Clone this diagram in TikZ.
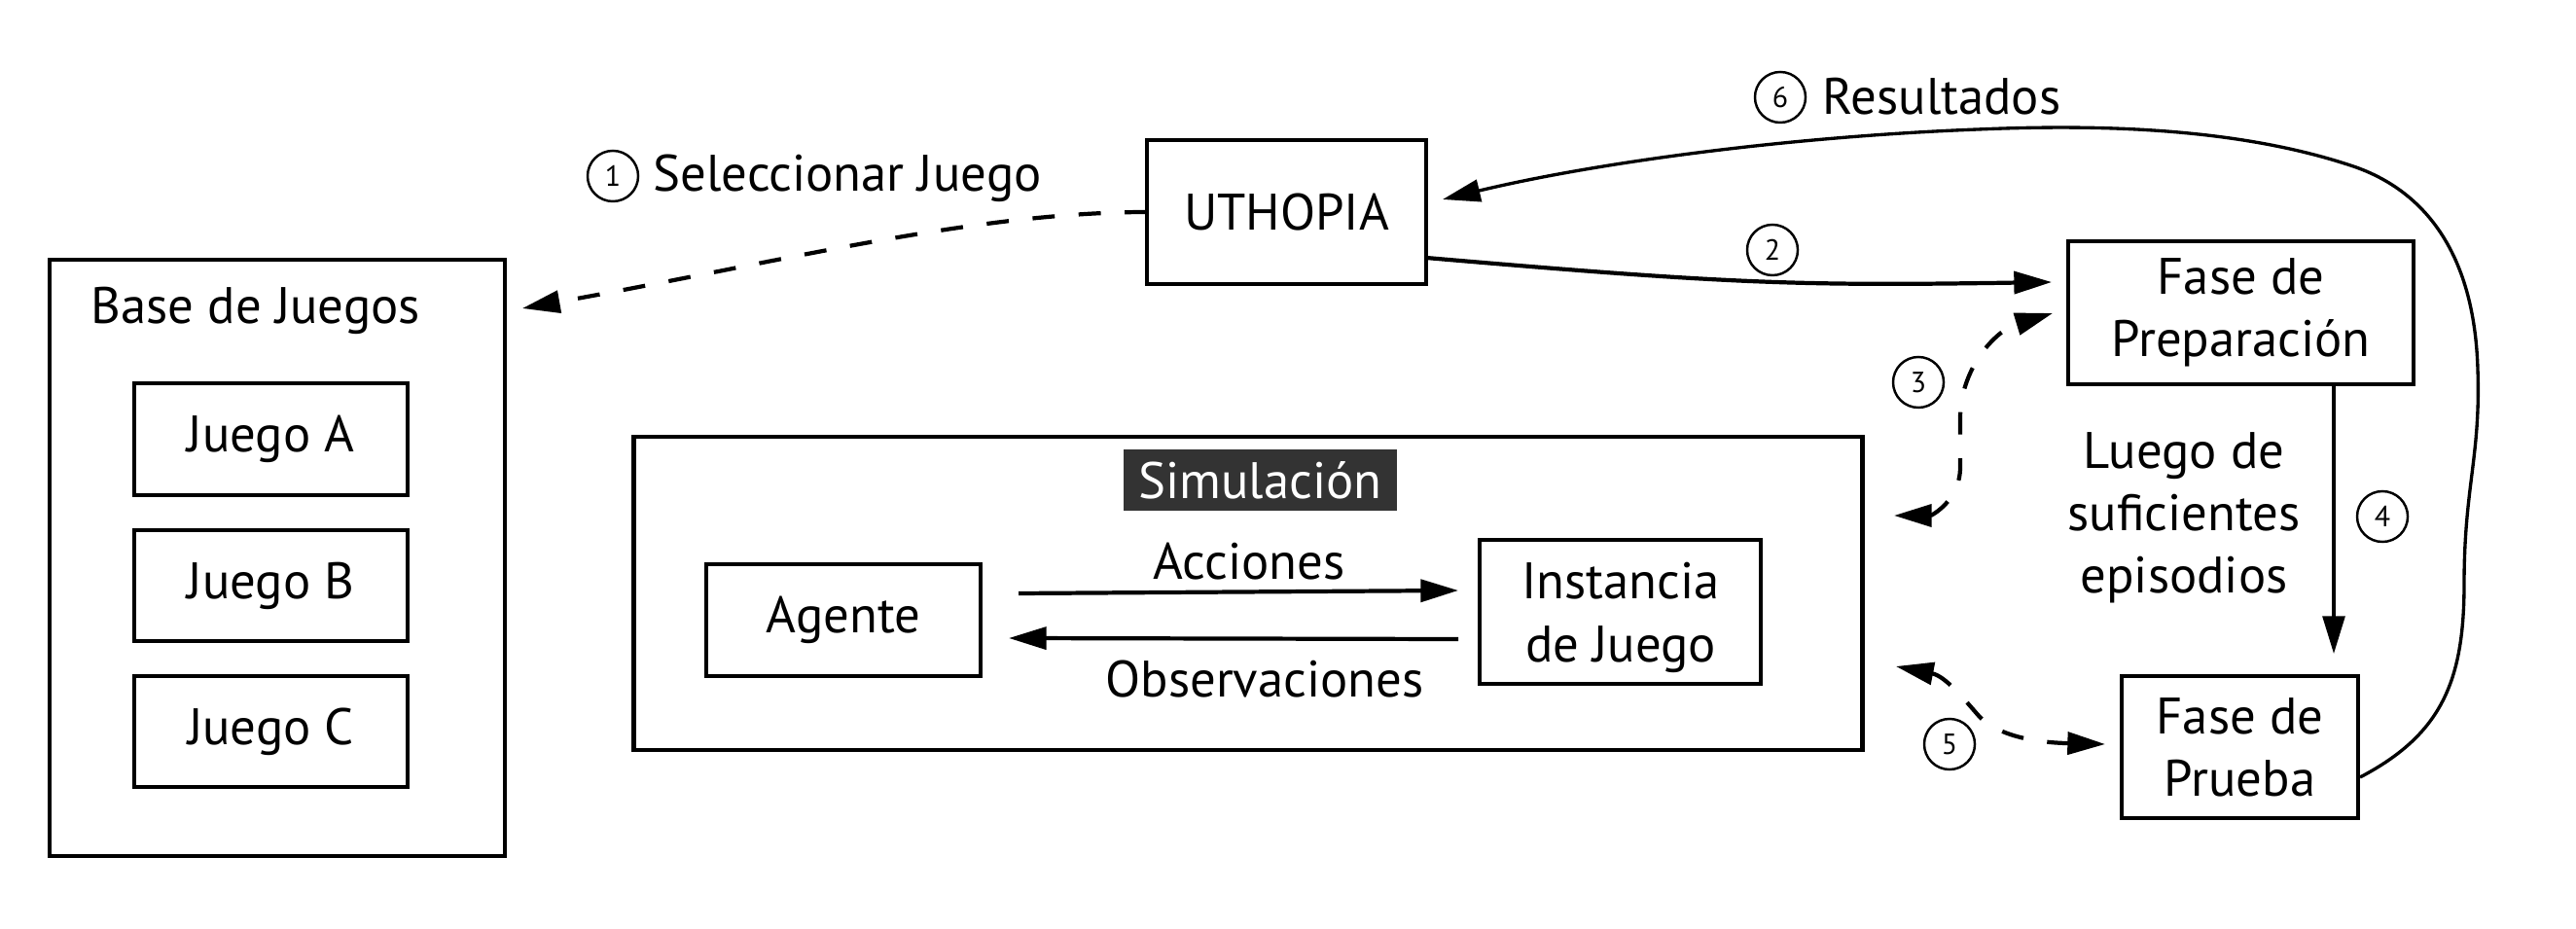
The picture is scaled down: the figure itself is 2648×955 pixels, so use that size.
\documentclass[tikz,border=0pt]{standalone}
\usepackage{fontspec}
\setmainfont{PT Sans}
\usetikzlibrary{arrows.meta}
\definecolor{simgray}{HTML}{333333}
\begin{document}
\begin{tikzpicture}[x=0.01cm,y=-0.01cm,
  font=\fontsize{15}{18.2}\selectfont,
  box/.style={draw, line width=1.3pt, inner sep=0pt, align=center},
  lbl/.style={inner sep=0pt},
  num/.style={draw, circle, line width=0.7pt, minimum size=0.52cm, inner sep=0pt, font=\fontsize{8.5}{10}\selectfont},
  conn/.style={line width=1.2pt, -{Triangle[length=11pt,width=6.5pt]}},
  dconn/.style={line width=1.2pt, dash pattern=on 6.5pt off 7pt},
  thinconn/.style={line width=0.95pt, -{Triangle[length=11pt,width=6.5pt]}},
]
\useasboundingbox (0,0) rectangle (2648,955);

% nodes
\node[box, minimum width=4.68cm, minimum height=6.13cm] (base) at (285,573.5) {};
\node[lbl, anchor=base west] (basetxt) at (93,333) {Base de Juegos};
\node[box, minimum width=2.81cm, minimum height=1.15cm] (ja) at (278.5,451.5) {Juego A};
\node[box, minimum width=2.81cm, minimum height=1.14cm] (jb) at (278.5,602) {Juego B};
\node[box, minimum width=2.81cm, minimum height=1.14cm] (jc) at (278.5,752) {Juego C};
\node[box, minimum width=2.87cm, minimum height=1.48cm] (uth) at (1322.5,218) {UTHOPIA};
\node[box, minimum width=3.55cm, minimum height=1.47cm] (prep) at (2303.5,321.5) {Fase de\\Preparación};
\node[box, minimum width=2.43cm, minimum height=1.46cm] (prueba) at (2302.5,768) {Fase de\\Prueba};
\node[box, minimum width=12.62cm, minimum height=3.22cm] (sim) at (1283,610) {};
\node[fill=simgray, text=white, minimum width=2.81cm, minimum height=0.63cm, inner sep=0pt] (simlbl) at (1295.5,493.5) {Simulación};
\node[box, minimum width=2.82cm, minimum height=1.15cm] (agente) at (867,637.5) {Agente};
\node[box, minimum width=2.89cm, minimum height=1.48cm] (inst) at (1665.5,629) {};
\node[lbl, anchor=base, align=center] (insttxt) at (1666,680) {Instancia\\de Juego};

% labels
\node[lbl, anchor=base] (acc) at (1284,595) {Acciones};
\node[lbl, anchor=base] (obs) at (1300,716) {Observaciones};
\node[num] (n1) at (630,181) {1};
\node[lbl, anchor=base west] (sel) at (671,197) {Seleccionar Juego};
\node[num] (n2) at (1822,257) {2};
\node[num] (n3) at (1972,393) {3};
\node[num] (n4) at (2449,531) {4};
\node[num] (n5) at (2004,765) {5};
\node[num] (n6) at (1830,100) {6};
\node[lbl, anchor=base west] (res) at (1873,118) {Resultados};
\node[lbl, anchor=base, align=center] (luego) at (2245,610) {Luego de\\suficientes\\episodios};

% connector end points
\coordinate (accS) at (1047,610);
\coordinate (accE) at (1499,607);
\coordinate (obsS) at (1499,657);
\coordinate (obsE) at (1037,656);
\coordinate (selS) at (1179,218);
\coordinate (selE) at (537,317);
\coordinate (twoS) at (1466,265);
\coordinate (twoE) at (2109,290);
\coordinate (thrA) at (1947,530);
\coordinate (thrB) at (2110,322);
\coordinate (fourS) at (2399,395);
\coordinate (fourE) at (2399,672);
\coordinate (fivA) at (1949,685);
\coordinate (fivB) at (2164,765);
\coordinate (sixS) at (2426,799);
\coordinate (sixE) at (1483,205);

% connectors
\draw[conn] (accS) -- (accE);
\draw[conn] (obsS) -- (obsE);
\draw[dconn, -{Triangle[length=11pt,width=6.5pt]}] (selS) .. controls (1000,218) and (800,270) .. (selE);
\draw[conn] (twoS) .. controls (1780,292) and (1850,294) .. (twoE);
\draw[dconn, {Triangle[length=11pt,width=6.5pt]}-{Triangle[length=11pt,width=6.5pt]}]
  (thrA) .. controls (1985,530) and (2015,515) .. (2015,480) -- (2015,430)
  .. controls (2015,380) and (2050,340) .. (thrB);
\draw[thinconn] (fourS) -- (fourE);
\draw[dconn, {Triangle[length=11pt,width=6.5pt]}-{Triangle[length=11pt,width=6.5pt]}]
  (fivA) .. controls (2000,695) and (2020,720) .. (2035,737)
  .. controls (2050,752) and (2080,763) .. (fivB);
\draw[thinconn] (sixS) .. controls (2510,755) and (2533,700) .. (2533,600)
  .. controls (2533,500) and (2550,470) .. (2547,380)
  .. controls (2544,270) and (2500,200) .. (2422,172)
  .. controls (2300,130) and (2150,128) .. (2033,133)
  .. controls (1850,140) and (1650,165) .. (sixE);
\end{tikzpicture}
\end{document}
